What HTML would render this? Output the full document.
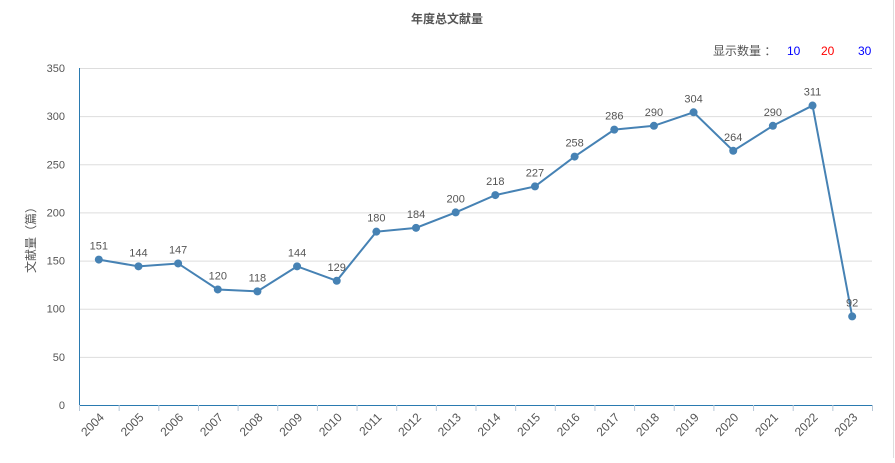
<!DOCTYPE html>
<html><head><meta charset="utf-8"><style>
body{margin:0;background:#fff;width:895px;height:458px;overflow:hidden;font-family:"Liberation Sans","Noto Sans CJK SC",sans-serif}
svg text{font-family:"Liberation Sans","Noto Sans CJK SC",sans-serif}
</style></head><body>
<svg id="c" width="895" height="458">
<line x1="893.5" y1="0" x2="893.5" y2="458" stroke="#ddd"/>
<text x="447" y="23" text-anchor="middle" font-size="12" font-weight="bold" fill="#555">年度总文献量</text>
<g>
<text x="713" y="55" font-size="12" fill="#555">显示数量 ：</text>
<text x="787" y="55" font-size="12" fill="#00f" style="cursor:pointer">10</text>
<text x="821" y="55" font-size="12" fill="#f00" style="cursor:pointer">20</text>
<text x="858" y="55" font-size="12" fill="#00f" style="cursor:pointer">30</text>
</g>
<text transform="translate(35,237) rotate(-90)" text-anchor="middle" font-size="12" fill="#555">文献量（篇）</text>
<g id="grid"></g><g id="axes"></g><g id="series"></g>
</svg>
<script>
const categories=["2004","2005","2006","2007","2008","2009","2010","2011","2012","2013","2014","2015","2016","2017","2018","2019","2020","2021","2022","2023"];
const values=[151,144,147,120,118,144,129,180,184,200,218,227,258,286,290,304,264,290,311,92];
const yTicks=[0,50,100,150,200,250,300,350];
const NS="http://www.w3.org/2000/svg";
const L=79,R=872,T=68,B=405,yMax=350;
const bw=(R-L)/categories.length;
const x=i=>L+bw*(i+0.5);
const y=v=>B-(v/yMax)*(B-T);
function mk(tag,attrs,parent,txt){const e=document.createElementNS(NS,tag);for(const k in attrs)e.setAttribute(k,attrs[k]);if(txt!=null)e.textContent=txt;parent.appendChild(e);return e;}
const grid=document.getElementById('grid'),axes=document.getElementById('axes'),ser=document.getElementById('series');
yTicks.forEach(t=>{
 if(t>0){const g=mk('line',{x1:L,x2:R,y1:y(t)+0.5,y2:y(t)+0.5,stroke:'#ddd'},grid);
 
 }
 const tl=mk('text',{x:65,y:y(t)+4,'text-anchor':'end','font-size':11,fill:'#555'},axes,String(t));
 
 
});
const ya=mk('line',{x1:L+0.5,x2:L+0.5,y1:T,y2:B,stroke:'#2a7ab0'},axes);


const xa=mk('line',{x1:L,x2:R,y1:B+0.5,y2:B+0.5,stroke:'#2a7ab0'},axes);


for(let i=0;i<=categories.length;i++){const tk=mk('line',{x1:L+bw*i+0.5,x2:L+bw*i+0.5,y1:B,y2:B+6,stroke:'#b8c8d8'},axes);
 
 }
categories.forEach((c,i)=>{
 const t=mk('text',{transform:`translate(${x(i)+6},${B+13}) rotate(-45)`,'text-anchor':'end','font-size':12,fill:'#555'},axes,c);
 
 
});
const pl=mk('polyline',{points:values.map((v,i)=>x(i)+','+y(v)).join(' '),fill:'none',stroke:'#4682b4','stroke-width':2},ser);


values.forEach((v,i)=>{
 const p=mk('circle',{cx:x(i),cy:y(v),r:4,fill:'#4682b4'},ser);
 
 
 const lb=mk('text',{x:x(i),y:y(v)-10,'text-anchor':'middle','font-size':11,fill:'#555'},ser,String(v));
 
 
});
</script>
</body></html>
